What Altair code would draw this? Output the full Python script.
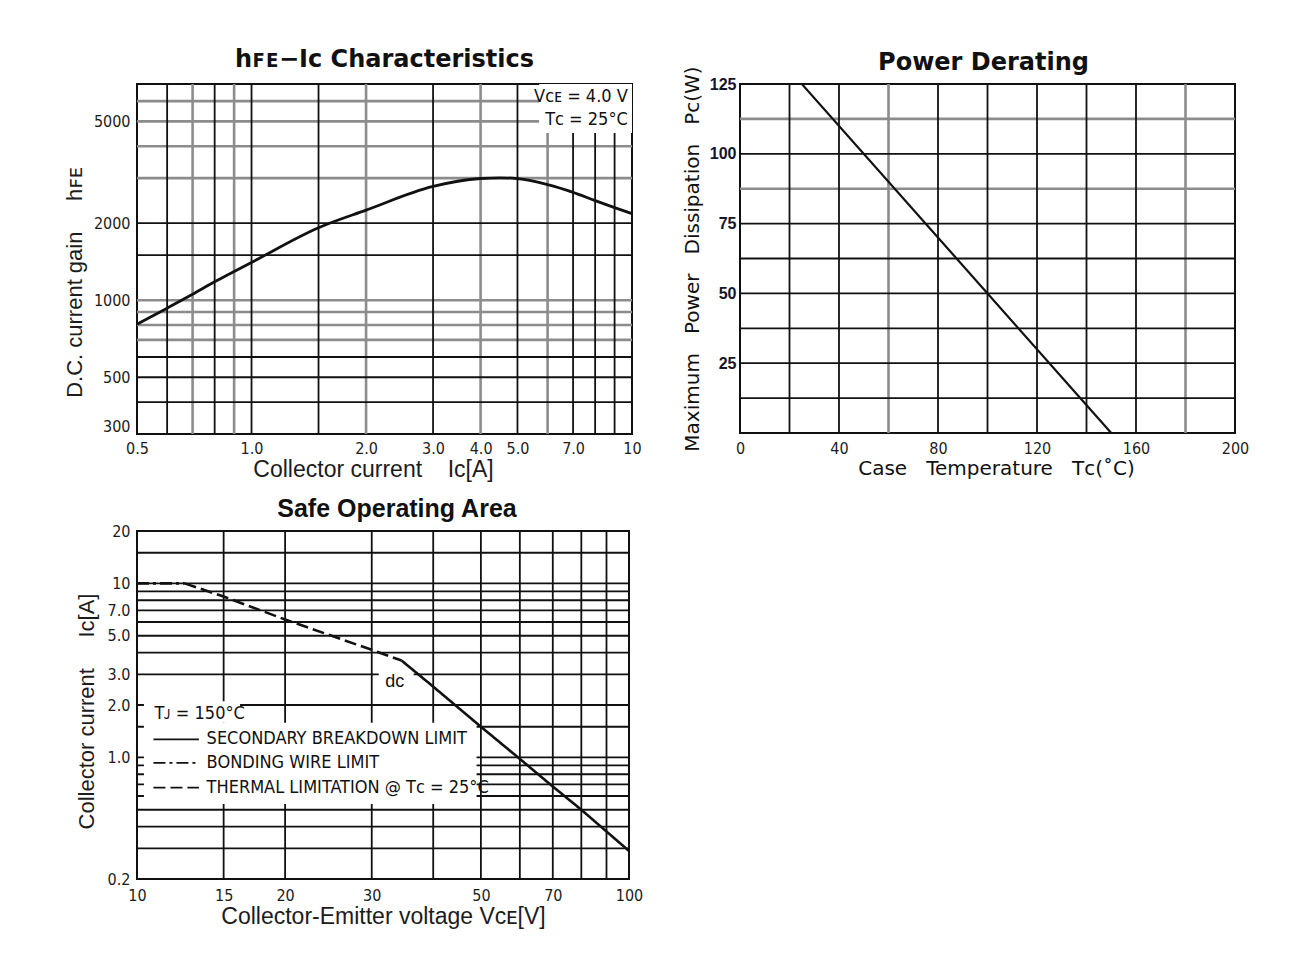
import altair as alt
import pandas as pd

# ---------------- data ----------------
# hFE - Ic characteristics (VCE = 4.0 V, TC = 25 C)
hfe_ic = [0.5, 0.6, 0.7, 0.8, 1.0, 1.5, 2.0, 3.0, 4.0, 4.5, 5.0, 6.0, 7.0, 8.0, 9.0, 10.0]
hfe_gain = [805, 931, 1055, 1180, 1405, 1920, 2250, 2785, 2990, 3010, 2985, 2830, 2640, 2450, 2300, 2180]
hfe_xticks = [0.5, 1.0, 2.0, 3.0, 4.0, 5.0, 7.0, 10.0]
hfe_yticks = [300, 500, 1000, 2000, 5000]
hfe_vgrid_dark = [0.6, 0.8, 1.0, 1.5, 3.0, 5.0, 7.0, 8.0, 9.0]
hfe_vgrid_gray = [0.7, 0.9, 2.0, 4.0, 6.0]
hfe_hgrid_dark = [400, 500, 600, 1500, 2000]
hfe_hgrid_gray = [700, 800, 900, 1000, 3000, 4000, 5000, 6000]
hfe_notes = ["V\u1d04\u1d07 = 4.0 V", "T\u1d04 = 25\u00b0C"]
hfe_note_gain = [6250, 5050]

# Power derating
pd_temp = [0, 25, 150]
pd_power = [125, 125, 0]
pd_xticks = [0, 40, 80, 120, 160, 200]
pd_yticks = [25, 50, 75, 100, 125]
pd_vgrid_dark = [20, 40, 80, 100, 120, 140, 160]
pd_vgrid_gray = [60, 180]
pd_hgrid_dark = [12.5, 25, 37.5, 50, 62.5, 75, 100]
pd_hgrid_gray = [87.5, 112.5]

# Safe operating area
soa_bond_v = [10, 12.5]
soa_bond_i = [10, 10]
soa_therm_v = [12.5, 15, 20, 30, 34.5]
soa_therm_i = [10, 8.4, 6.2, 4.15, 3.6]
soa_sb_v = [34.5, 40, 50, 60, 70, 80, 100]
soa_sb_i = [3.6, 2.55, 1.5, 0.98, 0.68, 0.5, 0.29]
soa_xticks = [10, 15, 20, 30, 50, 70, 100]
soa_yticks = [0.2, 1.0, 2.0, 3.0, 5.0, 7.0, 10, 20]
soa_vgrid = [15, 20, 30, 40, 50, 60, 70, 80, 90]
soa_hgrid = [0.3, 0.4, 0.5, 0.6, 0.7, 0.8, 0.9, 1.0, 1.5, 2.0, 3.0, 4.0, 5.0, 6.0, 7.0, 8.0, 9.0, 10, 15]
soa_styles = ["secondary", "bonding", "thermal"]
soa_legend_labels = ["SECONDARY BREAKDOWN LIMIT", "BONDING WIRE LIMIT",
                     "THERMAL LIMITATION @ T\u1d04 = 25\u00b0C"]
soa_legend_i = [1.27, 0.93, 0.67]

# annotation anchors (data units)
HFE_NOTE_IC = 9.75
HFE_NOTE_BOX = dict(x1=5.7, x2=10.0, y1=4500, y2=7000)
SOA_BOX_MAIN = dict(x1=10.33, x2=49.0, y1=0.54, y2=1.58)
SOA_BOX_TJ = dict(x1=10.33, x2=16.2, y1=1.58, y2=2.1)
SOA_BOX_DC = dict(x1=31.0, x2=36.5, y1=2.5, y2=3.2)
SOA_TJ = dict(v=10.85, i=1.78, t="T\u1d0a = 150\u00b0C")
SOA_DC = dict(v=33.4, i=2.72, t="dc")
SOA_SAMPLE_V = [10.8, 13.36]
SOA_LABEL_V = 13.85

# ---------------- styles ----------------
SANS = "Liberation Sans, DejaVu Sans, sans-serif"
NARROW = "Liberation Sans Narrow, DejaVu Sans Condensed, Liberation Sans, sans-serif"
WIDE = "DejaVu Sans, sans-serif"
INK = "#111111"
GRAY = "#8c8c8c"
LBL = "#1c1c1c"
NB = "\u00a0"

dash_scale = alt.Scale(domain=soa_styles, range=[[1, 0], [12, 4, 3, 4], [12, 5]])


class Panel:
    def __init__(self, xs, ys, ax, ay):
        self.xs, self.ys, self.ax, self.ay = xs, ys, ax, ay

    def X(self, f):
        return alt.X(f, scale=self.xs, axis=self.ax)

    def Y(self, f):
        return alt.Y(f, scale=self.ys, axis=self.ay)

    def vrules(self, values, color, width):
        return alt.Chart(pd.DataFrame({"v": values})).mark_rule(
            color=color, strokeWidth=width).encode(x=self.X("v:Q"))

    def hrules(self, values, color, width):
        return alt.Chart(pd.DataFrame({"v": values})).mark_rule(
            color=color, strokeWidth=width).encode(y=self.Y("v:Q"))

    def box(self, b):
        return alt.Chart(pd.DataFrame([b])).mark_rect(color="white").encode(
            x=self.X("x1:Q"), x2="x2:Q", y=self.Y("y1:Q"), y2="y2:Q")

    def text(self, df, **kw):
        return alt.Chart(df).mark_text(baseline="middle", color=INK, **kw).encode(
            x=self.X("x:Q"), y=self.Y("y:Q"), text="t:N")


# ---------------- panel 1: hFE - Ic ----------------
P1 = Panel(
    alt.Scale(type="log", domain=[0.5, 10], nice=False),
    alt.Scale(type="log", domain=[300, 7000], nice=False),
    alt.Axis(values=hfe_xticks,
             labelExpr="datum.value >= 10 ? '10' : format(datum.value, '.1f')",
             title="Collector current" + NB * 4 + "I\u1d04[A]",
             grid=False, ticks=False, domain=False, labelFlush=False,
             labelFont=NARROW, labelFontSize=16, labelColor=LBL, labelPadding=6,
             titleFont=SANS, titleFontSize=23, titleFontWeight="normal", titleColor=LBL,
             titlePadding=2, titleX=236),
    alt.Axis(values=hfe_yticks, format="d",
             title="D.C. current gain" + NB * 5 + "h\ua730\u1d07",
             grid=False, ticks=False, domain=False, labelFlush=True,
             labelFont=NARROW, labelFontSize=16, labelColor=LBL, labelPadding=7,
             titleFont=SANS, titleFontSize=22, titleFontWeight="normal", titleColor=LBL,
             titlePadding=7, titleY=198),
)

hfe_df = pd.DataFrame({"x": hfe_ic, "y": hfe_gain})
notes_df = pd.DataFrame({"x": [HFE_NOTE_IC] * 2, "y": hfe_note_gain, "t": hfe_notes})

p1 = alt.layer(
    P1.vrules(hfe_vgrid_gray, GRAY, 2.6), P1.hrules(hfe_hgrid_gray, GRAY, 2.6),
    P1.vrules(hfe_vgrid_dark, INK, 1.8), P1.hrules(hfe_hgrid_dark, INK, 1.8),
    P1.box(HFE_NOTE_BOX),
    P1.text(notes_df, align="right", font=NARROW, fontSize=18),
    alt.Chart(hfe_df).mark_line(color=INK, strokeWidth=2.8, interpolate="monotone").encode(
        x=P1.X("x:Q"), y=P1.Y("y:Q")),
).properties(
    width=495, height=350,
    title=alt.TitleParams("h\ua730\u1d07\u2212I\u1d04 Characteristics", font="DejaVu Sans",
                          fontSize=24, fontWeight="bold", color=INK, anchor="middle",
                          frame="group", baseline="alphabetic", offset=-8),
)

# ---------------- panel 2: power derating ----------------
P2 = Panel(
    alt.Scale(domain=[0, 200], nice=False),
    alt.Scale(domain=[0, 125], nice=False),
    alt.Axis(values=pd_xticks, format="d",
             title="Case" + NB * 2 + " Temperature" + NB * 2 + " T\u1d04(\u02daC)",
             grid=False, ticks=False, domain=False, labelFlush=False,
             labelFont=NARROW, labelFontSize=16, labelColor=LBL, labelPadding=7,
             titleFont=WIDE, titleFontSize=20, titleFontWeight="normal", titleColor=INK,
             titlePadding=2, titleX=256),
    alt.Axis(values=pd_yticks, format="d",
             title="Maximum" + NB * 2 + " Power" + NB * 2 + " Dissipation" + NB * 2 + " P\u1d04(W)",
             grid=False, ticks=False, domain=False,
             labelFont=SANS, labelFontSize=16, labelFontWeight="bold", labelColor="#14142a",
             labelPadding=4,
             titleFont=WIDE, titleFontSize=20, titleFontWeight="normal", titleColor=INK,
             titlePadding=7),
)
pd_df = pd.DataFrame({"x": pd_temp, "y": pd_power})

p2 = alt.layer(
    P2.vrules(pd_vgrid_gray, GRAY, 2.6), P2.hrules(pd_hgrid_gray, GRAY, 2.6),
    P2.vrules(pd_vgrid_dark, INK, 1.8), P2.hrules(pd_hgrid_dark, INK, 1.8),
    alt.Chart(pd_df).mark_line(color=INK, strokeWidth=2.2).encode(
        x=P2.X("x:Q"), y=P2.Y("y:Q")),
).properties(
    width=495, height=349,
    title=alt.TitleParams("Power Derating", font="DejaVu Sans", fontSize=24, fontWeight="bold",
                          color=INK, anchor="middle", frame="group",
                          baseline="alphabetic", offset=-28, dx=-4),
)

# ---------------- panel 3: safe operating area ----------------
P3 = Panel(
    alt.Scale(type="log", domain=[10, 100], nice=False),
    alt.Scale(type="log", domain=[0.2, 20], nice=False),
    alt.Axis(values=soa_xticks, format="d",
             title="Collector-Emitter voltage V\u1d04\u1d07[V]",
             grid=False, ticks=False, domain=False, labelFlush=False,
             labelFont=NARROW, labelFontSize=16, labelColor=LBL, labelPadding=8,
             titleFont=SANS, titleFontSize=23, titleFontWeight="normal", titleColor=LBL,
             titlePadding=2),
    alt.Axis(values=soa_yticks,
             labelExpr="datum.value >= 10 ? format(datum.value, 'd') : format(datum.value, '.1f')",
             title="Collector current" + NB * 5 + "I\u1d04[A]",
             grid=False, ticks=False, domain=False,
             labelFont=NARROW, labelFontSize=16, labelColor=LBL, labelPadding=7,
             titleFont=SANS, titleFontSize=22, titleFontWeight="normal", titleColor=LBL,
             titlePadding=9, titleY=180),
)

soa_df = pd.concat([
    pd.DataFrame({"x": soa_bond_v, "y": soa_bond_i, "s": "bonding"}),
    pd.DataFrame({"x": soa_therm_v, "y": soa_therm_i, "s": "thermal"}),
    pd.DataFrame({"x": soa_sb_v, "y": soa_sb_i, "s": "secondary"}),
], ignore_index=True)

leg_lines = pd.DataFrame({
    "x": SOA_SAMPLE_V * 3,
    "y": [soa_legend_i[0]] * 2 + [soa_legend_i[1]] * 2 + [soa_legend_i[2]] * 2,
    "s": [soa_styles[0]] * 2 + [soa_styles[1]] * 2 + [soa_styles[2]] * 2,
})
leg_text = pd.DataFrame({"x": [SOA_LABEL_V] * 3, "y": soa_legend_i, "t": soa_legend_labels})
tj_text = pd.DataFrame({"x": [SOA_TJ["v"]], "y": [SOA_TJ["i"]], "t": [SOA_TJ["t"]]})
dc_text = pd.DataFrame({"x": [SOA_DC["v"]], "y": [SOA_DC["i"]], "t": [SOA_DC["t"]]})

p3 = alt.layer(
    P3.vrules(soa_vgrid, INK, 1.8), P3.hrules(soa_hgrid, INK, 1.8),
    P3.box(SOA_BOX_MAIN), P3.box(SOA_BOX_TJ), P3.box(SOA_BOX_DC),
    alt.Chart(leg_lines).mark_line(color=INK, strokeWidth=1.8).encode(
        x=P3.X("x:Q"), y=P3.Y("y:Q"),
        strokeDash=alt.StrokeDash("s:N", scale=dash_scale, legend=None), detail="s:N"),
    P3.text(leg_text, align="left", font=NARROW, fontSize=18),
    P3.text(tj_text, align="left", font=NARROW, fontSize=18),
    P3.text(dc_text, align="center", font=SANS, fontSize=18),
    alt.Chart(soa_df).mark_line(color=INK, strokeWidth=2.6).encode(
        x=P3.X("x:Q"), y=P3.Y("y:Q"),
        strokeDash=alt.StrokeDash("s:N", scale=dash_scale, legend=None), detail="s:N"),
).properties(
    width=492, height=348,
    title=alt.TitleParams("Safe Operating Area", font=SANS, fontSize=25, fontWeight="bold",
                          color=INK, anchor="middle", frame="group",
                          baseline="alphabetic", offset=-19, dx=14),
)

chart = alt.concat(
    p1, p2, p3, columns=2, bounds="flush",
    spacing=alt.RowColnumber(row=97, column=108),
).properties(
    padding={"left": 54, "top": 38, "right": 10, "bottom": 10},
    background="white",
).configure_view(stroke=INK, strokeWidth=2)

chart.save("out.html", embed_options={"renderer": "svg", "actions": False})
